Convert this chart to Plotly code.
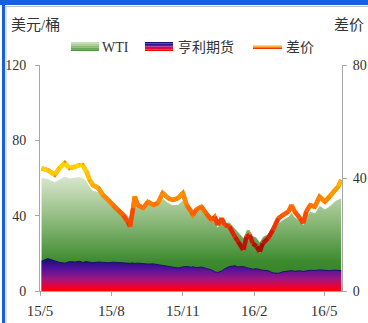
import plotly.graph_objects as go
from plotly.colors import sample_colorscale

# ---- data -----------------------------------------------------------------
dates = [
    "2015-05-03", "2015-05-11", "2015-05-20", "2015-05-26", "2015-06-02", "2015-06-08",
    "2015-06-15", "2015-06-21", "2015-06-25", "2015-06-30", "2015-07-04", "2015-07-08",
    "2015-07-15", "2015-07-21", "2015-07-28", "2015-08-03", "2015-08-09", "2015-08-16",
    "2015-08-22", "2015-08-25", "2015-08-29", "2015-08-31", "2015-09-04", "2015-09-11",
    "2015-09-17", "2015-09-24", "2015-09-30", "2015-10-06", "2015-10-13", "2015-10-19",
    "2015-10-26", "2015-11-01", "2015-11-06", "2015-11-12", "2015-11-14", "2015-11-18",
    "2015-11-25", "2015-12-01", "2015-12-08", "2015-12-12", "2015-12-16", "2015-12-21",
    "2015-12-25", "2015-12-31", "2016-01-07", "2016-01-11", "2016-01-18", "2016-01-22",
    "2016-01-26", "2016-01-30", "2016-02-04", "2016-02-08", "2016-02-12", "2016-02-19",
    "2016-02-25", "2016-03-03", "2016-03-09", "2016-03-16", "2016-03-20", "2016-03-24",
    "2016-03-31", "2016-04-04", "2016-04-08", "2016-04-13", "2016-04-19", "2016-04-25",
    "2016-05-02", "2016-05-08", "2016-05-15", "2016-05-19", "2016-05-23",
]

wti = [
    60.2, 59.8, 58.1, 59.7, 61.1, 60.1, 60.4, 60.8, 60.3, 58.8, 55.6, 53.5,
    52.9, 50.2, 48.2, 46.7, 44.8, 42.7, 40.5, 38.5, 45.3, 49.0, 46.2, 44.9,
    46.9, 45.8, 46.2, 49.5, 47.1, 45.8, 46.1, 48.5, 44.4, 41.7, 40.8, 42.1,
    43.5, 40.5, 37.3, 37.5, 34.2, 37.3, 36.2, 36.8, 33.6, 31.3, 28.5, 32.6,
    32.8, 29.5, 28.5, 26.3, 28.9, 30.5, 32.2, 36.1, 38.1, 39.7, 42.2, 39.6,
    37.4, 35.4, 39.9, 42.4, 41.7, 45.6, 43.6, 45.2, 47.9, 48.8, 49.5,
]

henry_hub = [
    15.8, 17.2, 16.0, 15.2, 14.8, 15.6, 15.4, 15.8, 15.2, 15.6, 15.3, 15.0,
    15.4, 15.2, 15.0, 15.3, 15.1, 14.8, 15.0, 14.7, 14.9, 14.6, 14.8, 14.5,
    14.3, 14.4, 14.0, 13.8, 13.2, 12.6, 12.2, 12.8, 13.0, 12.6, 12.9, 12.4,
    12.7, 12.0, 11.2, 10.2, 9.8, 10.6, 11.8, 13.0, 13.4, 12.8, 13.0, 12.4,
    12.0, 11.6, 11.8, 11.4, 11.0, 10.8, 9.6, 9.4, 10.2, 10.6, 10.8, 10.5,
    10.7, 10.4, 10.8, 11.0, 10.9, 11.2, 11.0, 10.8, 11.1, 10.9, 10.8,
]

spread = [
    43.4, 42.8, 41.1, 43.5, 45.3, 43.5, 44.0, 44.6, 44.6, 42.2, 39.3, 37.5,
    36.5, 34.0, 32.2, 30.4, 28.7, 26.9, 24.5, 22.8, 29.4, 33.4, 30.4, 29.4,
    31.6, 30.4, 31.2, 34.7, 32.9, 32.2, 32.9, 34.7, 30.4, 28.1, 26.9, 28.7,
    29.8, 27.5, 25.1, 26.3, 23.4, 25.7, 23.4, 22.8, 19.2, 17.5, 14.5, 19.2,
    19.8, 16.9, 15.7, 13.9, 16.9, 18.7, 21.6, 25.7, 26.9, 28.1, 30.4, 28.1,
    25.7, 24.0, 28.1, 30.4, 29.8, 33.4, 31.6, 33.4, 35.8, 36.9, 39.3,
]

tick_vals = ["2015-05-01", "2015-08-01", "2015-11-01", "2016-02-01", "2016-05-01"]
tick_text = ["15/5", "15/8", "15/11", "16/2", "16/5"]
left_ticks = [0, 40, 80, 120]
right_ticks = [0, 40, 80]

series_names = ["WTI", "亨利期货", "差价"]
left_unit = "美元/桶"
right_unit = "差价"

# ---- styling ----------------------------------------------------------------
W, H = 368, 323
ML, MR, MT, MB = 40, 26, 65, 32
PW, PH = W - ML - MR, H - MT - MB
FONT = "Liberation Serif, Noto Sans CJK SC, serif"
TEXT = "#333333"
AXIS = "#a8a8a8"

WTI_SCALE = [[0, "#2c7a20"], [0.25, "#3d8a2f"], [0.6, "#8cb97a"], [1, "#dce9d2"]]
HH_SCALE = [[0, "#ff0000"], [0.12, "#f0002c"], [0.4, "#9a1884"], [0.72, "#50129a"], [1, "#1e0f7c"]]
SPREAD_SCALE = [[0, "#7a0c06"], [0.12, "#a81208"], [0.24, "#d81c08"], [0.36, "#f03c08"],
                [0.52, "#ff6a00"], [0.67, "#ff9400"], [0.82, "#ffb800"], [1, "#ffd800"]]


def px_x(px):
    return (px - ML) / PW


def px_y(py):
    return (H - MB - py) / PH


fig = go.Figure()

# WTI price area with vertical green gradient
fig.add_trace(go.Scatter(
    x=dates, y=wti, mode="lines", fill="tozeroy", name=series_names[0],
    line=dict(color="rgba(255,255,255,0.85)", width=1.2),
    fillgradient=dict(type="vertical", colorscale=WTI_SCALE, start=0, stop=62),
    hoverinfo="skip",
))

# Henry Hub futures area, blue-purple-red gradient
fig.add_trace(go.Scatter(
    x=dates, y=henry_hub, mode="lines", fill="tozeroy", name=series_names[1],
    line=dict(color="#1c0f70", width=1),
    fillgradient=dict(type="vertical", colorscale=HH_SCALE, start=0, stop=16.5),
    hoverinfo="skip",
))

# spread line on the right axis: base stroke, then segments coloured by value
fig.add_trace(go.Scatter(
    x=dates, y=spread, mode="lines", yaxis="y2", name=series_names[2],
    line=dict(color="#ff7a00", width=4.2), hoverinfo="skip",
))

lo, hi, nbins = 12.0, 45.0, 28
groups = {}
for i in range(len(dates) - 1):
    m = (spread[i] + spread[i + 1]) / 2
    t = min(max((m - lo) / (hi - lo), 0.0), 1.0)
    b = min(int(t * nbins), nbins - 1)
    xs, ys = groups.setdefault(b, ([], []))
    xs += [dates[i], dates[i + 1], None]
    ys += [spread[i], spread[i + 1], None]

for b, (xs, ys) in sorted(groups.items()):
    color = sample_colorscale(SPREAD_SCALE, [(b + 0.5) / nbins])[0]
    fig.add_trace(go.Scatter(
        x=xs, y=ys, mode="lines", yaxis="y2", line=dict(color=color, width=4.5),
        hoverinfo="skip", showlegend=False,
    ))

# ---- frame, legend swatches ---------------------------------------------------
shapes = [
    # blue top band and left edge of the panel
    dict(type="rect", xref="paper", yref="paper", x0=px_x(0), x1=px_x(W), y0=px_y(5), y1=px_y(0),
         fillcolor="#1560e0", line=dict(width=0), layer="above"),
    dict(type="line", xref="paper", yref="paper", x0=px_x(5), x1=px_x(W), y0=px_y(6.5), y1=px_y(6.5),
         line=dict(color="#c0c0c0", width=1)),
    dict(type="rect", xref="paper", yref="paper", x0=px_x(2), x1=px_x(5), y0=px_y(H), y1=px_y(0),
         fillcolor="#1560e0", line=dict(width=0), layer="above"),
    dict(type="line", xref="paper", yref="paper", x0=px_x(6), x1=px_x(6), y0=px_y(H), y1=px_y(6),
         line=dict(color="#c8c8c8", width=1)),
]


def swatch(x0, x1, y0, y1, colors):
    n = len(colors)
    step = (y1 - y0) / n
    for k, c in enumerate(colors):
        shapes.append(dict(type="rect", xref="paper", yref="paper",
                           x0=px_x(x0), x1=px_x(x1),
                           y0=px_y(y0 + step * (k + 1)), y1=px_y(y0 + step * k),
                           fillcolor=c, line=dict(width=0)))


swatch(71, 99, 42, 51, ["#c6dcb6", "#a9cb94", "#8cb977", "#6ea65b", "#579746"])
swatch(145, 173, 42, 51, ["#1c0f7a", "#3a1090", "#6a1690", "#a8147a", "#e8083c", "#ff0000"])
swatch(253, 282, 45.5, 49, ["#ffb000", "#ff7a00", "#e83a00"])

annotations = [
    dict(text=left_unit, x=px_x(9), y=px_y(25), xref="paper", yref="paper",
         xanchor="left", yanchor="middle", showarrow=False, font=dict(size=15, color=TEXT)),
    dict(text=right_unit, x=px_x(366), y=px_y(25), xref="paper", yref="paper",
         xanchor="right", yanchor="middle", showarrow=False, font=dict(size=15, color=TEXT)),
    dict(text=series_names[0], x=px_x(100), y=px_y(47), xref="paper", yref="paper",
         xanchor="left", yanchor="middle", showarrow=False, font=dict(size=14, color=TEXT)),
    dict(text=series_names[1], x=px_x(176), y=px_y(47), xref="paper", yref="paper",
         xanchor="left", yanchor="middle", showarrow=False, font=dict(size=14, color=TEXT)),
    dict(text=series_names[2], x=px_x(284), y=px_y(47), xref="paper", yref="paper",
         xanchor="left", yanchor="middle", showarrow=False, font=dict(size=14, color=TEXT)),
]

axis_common = dict(showgrid=False, zeroline=False, showline=True, linecolor=AXIS, linewidth=1,
                   ticks="outside", ticklen=4, tickcolor=AXIS, tickwidth=1, automargin=False,
                   fixedrange=True)

fig.update_layout(
    width=W, height=H, margin=dict(l=ML, r=MR, t=MT, b=MB, pad=0, autoexpand=False),
    paper_bgcolor="white", plot_bgcolor="white", showlegend=False,
    font=dict(family=FONT, size=14, color=TEXT),
    xaxis=dict(type="date", range=["2015-05-01", "2016-05-24"], ticklabelstandoff=2,
               tickmode="array", tickvals=tick_vals, ticktext=tick_text,
               tickfont=dict(size=15, color=TEXT, family=FONT), **axis_common),
    yaxis=dict(range=[0, 120], tickmode="array", tickvals=left_ticks, ticklabelstandoff=6,
               tickfont=dict(size=14, color=TEXT, family=FONT), **axis_common),
    yaxis2=dict(range=[0, 80], overlaying="y", side="right", tickmode="array",
                tickvals=right_ticks, ticklabelstandoff=3,
                tickfont=dict(size=14, color=TEXT, family=FONT), **axis_common),
    shapes=shapes, annotations=annotations,
)

fig.write_html("out.html")
